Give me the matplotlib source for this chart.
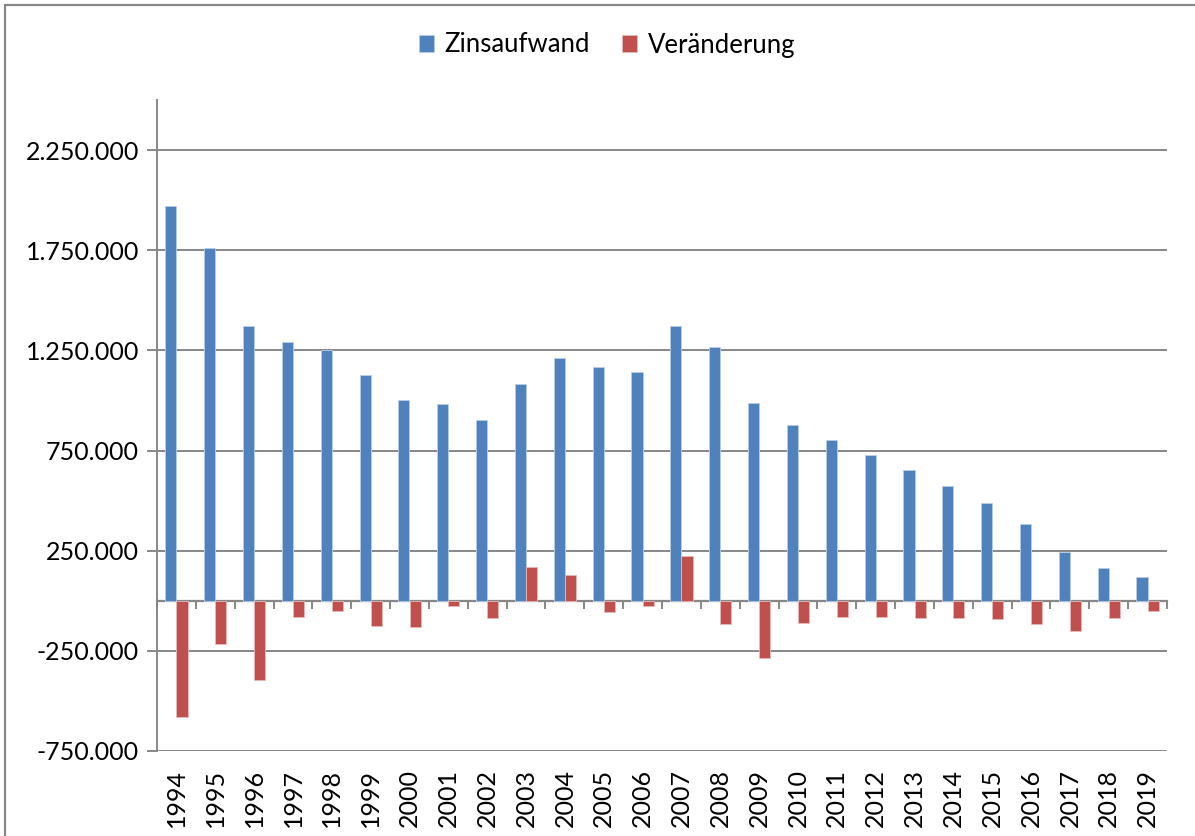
import numpy as np
import matplotlib.pyplot as plt
from matplotlib.ticker import FuncFormatter
from matplotlib.patches import Rectangle

plt.rcParams['font.family'] = ['Lato', 'DejaVu Sans']

jahre = [str(j) for j in range(1994, 2020)]
zinsaufwand = [1970000, 1760000, 1370000, 1290000, 1250000, 1125000, 1000000,
               980000, 900000, 1080000, 1210000, 1165000, 1140000, 1370000,
               1265000, 985000, 875000, 805000, 730000, 655000, 575000,
               490000, 385000, 245000, 165000, 120000]
veraenderung = [-580000, -215000, -395000, -80000, -50000, -125000, -130000,
                -25000, -85000, 170000, 130000, -55000, -25000, 225000,
                -115000, -285000, -110000, -80000, -80000, -85000, -85000,
                -90000, -115000, -150000, -85000, -50000]

blau = '#4F81BD'
rot = '#C0504D'
grau = '#878787'

fig = plt.figure(figsize=(11.95, 8.36), dpi=100)
ax = fig.add_axes([157 / 1195, 85 / 836, 1010 / 1195, 651 / 836])

x = np.arange(len(jahre))
breite = 1 / 3.5
ax.bar(x - breite / 2, zinsaufwand, breite, color=blau, edgecolor='#b9cde5',
       linewidth=0.6, label='Zinsaufwand', zorder=3)
ax.bar(x + breite / 2, veraenderung, breite, color=rot, edgecolor='#e6b9b8',
       linewidth=0.6, label='Veränderung', zorder=3)

ymin, ymax = -750000, 2500000
ax.set_ylim(ymin, ymax)
ax.set_xlim(-0.5, len(jahre) - 0.5)
ax.set_yticks(np.arange(-750000, 2250001, 500000))
ax.yaxis.set_major_formatter(FuncFormatter(lambda v, p: f"{int(v):,}".replace(',', '.')))
ax.yaxis.grid(True, color=grau, linewidth=1.4, zorder=0)
ax.tick_params(axis='y', length=7, width=1.4, color=grau, labelsize=18, pad=6)

# Jahreszahlen unten, senkrecht
ax.set_xticks(x)
ax.set_xticklabels(jahre, rotation=90, fontsize=18)
ax.tick_params(axis='x', length=0, pad=13)

for s in ['top', 'right', 'bottom']:
    ax.spines[s].set_visible(False)
ax.spines['left'].set_color(grau)
ax.spines['left'].set_linewidth(1.4)

# Nulllinie mit Teilstrichen zwischen den Jahren
null = (0 - ymin) / (ymax - ymin)
sec = ax.secondary_xaxis(null)
sec.set_xticks(np.arange(-0.5, len(jahre), 1.0))
sec.set_xticklabels([])
sec.tick_params(length=6, width=1.4, color=grau)
sec.spines['bottom'].set_color(grau)
sec.spines['bottom'].set_linewidth(1.6)
sec.spines['bottom'].set_zorder(4)

fig.legend(loc='center', bbox_to_anchor=(607 / 1195, 1 - 45 / 836), ncol=2,
           frameon=False, fontsize=18.5, handlelength=0.6, handleheight=0.6,
           handletextpad=0.4, columnspacing=1.25)

# Rahmen um das Diagramm
fig.add_artist(Rectangle((5 / 1195, -0.1), 1.2, 1.1 - 5 / 836, transform=fig.transFigure,
                         fill=False, edgecolor=grau, linewidth=1.6, clip_on=False))

fig.savefig('out.png', dpi=100)
